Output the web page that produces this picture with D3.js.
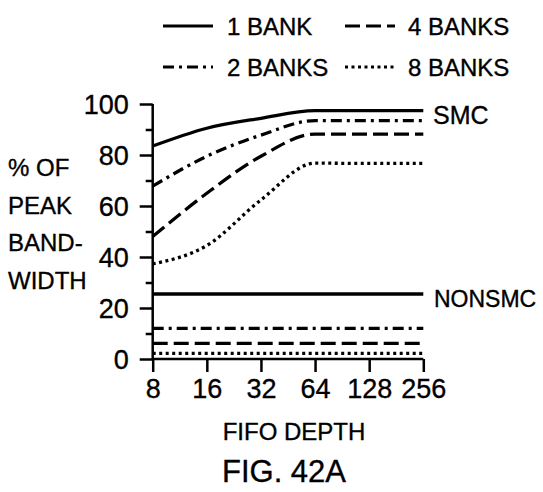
<!DOCTYPE html>
<html>
<head>
<meta charset="utf-8">
<script src="https://cdn.jsdelivr.net/npm/d3@7"></script>
<style>
  html, body { margin: 0; padding: 0; background: #fff; }
  svg { display: block; }
  text { font-family: "Liberation Sans", Arial, Helvetica, sans-serif; fill: #000; stroke: #000; stroke-width: 0.35px; }
</style>
</head>
<body>
<div id="chart"></div>
<script>
// ---- data ----
const depths = [8, 16, 32, 64, 128, 256];
const yTicks = [0, 20, 40, 60, 80, 100];
const yMinorTicks = [10, 30, 50, 70, 90];
const seriesNames = ["1 BANK", "2 BANKS", "4 BANKS", "8 BANKS"];
const smc1 = [83.5, 90.5, 94.4, 97.4, 97.4, 97.4];
const smc2 = [67.8, 79.5, 87.8, 93.5, 93.5, 93.5];
const smc4 = [48, 65, 79.5, 88.2, 88.2, 88.2];
const smc8 = [37.3, 44.5, 62.4, 76.8, 76.7, 76.7];
const non1 = [25.5, 25.5, 25.5, 25.5, 25.5, 25.5];
const non2 = [12, 12, 12, 12, 12, 12];
const non4 = [6.1, 6.1, 6.1, 6.1, 6.1, 6.1];
const non8 = [2.2, 2.2, 2.2, 2.2, 2.2, 2.2];
const yLabelLines = ["% OF", "PEAK", "BAND-", "WIDTH"];

// ---- styles ----
const dashes = ["none", "11,5,3,5", "15,6", "3,3.5"];

const W = 543, H = 492;
const svg = d3.select("#chart").append("svg").attr("width", W).attr("height", H);

const x = d3.scaleLog().base(2).domain([8, 256]).range([152.7, 423.3]);
const y = d3.scaleLinear().domain([0, 100]).range([359, 104]);

const line = d3.line().x((d, i) => x(depths[i])).y(d => y(d)).curve(d3.curveMonotoneX);

const smcSeries = [smc1, smc2, smc4, smc8];
const nonSeries = [non1, non2, non4, non8];

function drawSeries(arr, idx) {
  svg.append("path").datum(arr)
    .attr("d", line)
    .attr("fill", "none")
    .attr("stroke", "#000")
    .attr("stroke-width", 3.3)
    .attr("stroke-dasharray", dashes[idx]);
}
smcSeries.forEach(drawSeries);
nonSeries.forEach(drawSeries);

// ---- axes ----
const yAxis = d3.axisLeft(y).tickValues(yTicks).tickSize(13).tickPadding(11).tickFormat(d3.format("d"));
const gy = svg.append("g").attr("transform", `translate(${x(8)},0)`).call(yAxis);
gy.select(".domain").attr("d", `M0,${y(100)}V${y(0)}`).attr("stroke-width", 2.5);
gy.selectAll(".tick line").attr("stroke-width", 2.5);
gy.selectAll(".tick text").attr("font-size", 27).attr("font-family", "Liberation Sans, Arial, sans-serif").attr("dy", "0.36em");

const yMinor = d3.axisLeft(y).tickValues(yMinorTicks).tickSize(7).tickFormat("");
const gym = svg.append("g").attr("transform", `translate(${x(8)},0)`).call(yMinor);
gym.select(".domain").remove();
gym.selectAll(".tick line").attr("stroke-width", 2.5);

const xAxis = d3.axisBottom(x).tickValues(depths).tickSize(13).tickPadding(7).tickFormat(d3.format("d"));
const gx = svg.append("g").attr("transform", `translate(0,${y(0)})`).call(xAxis);
gx.select(".domain").attr("d", `M${x(8)},0H${x(256)}`).attr("stroke-width", 2.5);
gx.selectAll(".tick line").attr("stroke-width", 2.5);
gx.selectAll(".tick text").attr("font-size", 27).attr("font-family", "Liberation Sans, Arial, sans-serif");

svg.selectAll(".domain, .tick line").attr("stroke", "#000");

// ---- y label ----
svg.append("text").attr("x", 8).attr("y", 176).attr("font-size", 24)
  .selectAll("tspan").data(yLabelLines).join("tspan")
  .attr("x", 8).attr("dy", (d, i) => i === 0 ? 0 : 37.5).text(d => d);

// ---- x label & figure caption ----
svg.append("text").attr("x", 294).attr("y", 440).attr("text-anchor", "middle").attr("font-size", 24).text("FIFO DEPTH");
svg.append("text").attr("x", 284).attr("y", 482).attr("text-anchor", "middle").attr("font-size", 31).text("FIG. 42A");

// ---- group labels ----
svg.append("text").attr("x", 433).attr("y", 124).attr("font-size", 25).text("SMC");
svg.append("text").attr("x", 434).attr("y", 307).attr("font-size", 23).text("NONSMC");

// ---- legend ----
const legendPos = [
  {lx: 163, tx: 227, yy: 26},
  {lx: 163, tx: 227, yy: 67},
  {lx: 345, tx: 408, yy: 26},
  {lx: 345, tx: 408, yy: 67}
];
seriesNames.forEach((name, i) => {
  const p = legendPos[i];
  svg.append("line").attr("x1", p.lx).attr("x2", p.lx + 50).attr("y1", p.yy).attr("y2", p.yy)
    .attr("stroke", "#000").attr("stroke-width", 3).attr("stroke-dasharray", dashes[i]);
  svg.append("text").attr("x", p.tx).attr("y", p.yy + 8.5).attr("font-size", 24).text(name);
});
</script>
</body>
</html>
